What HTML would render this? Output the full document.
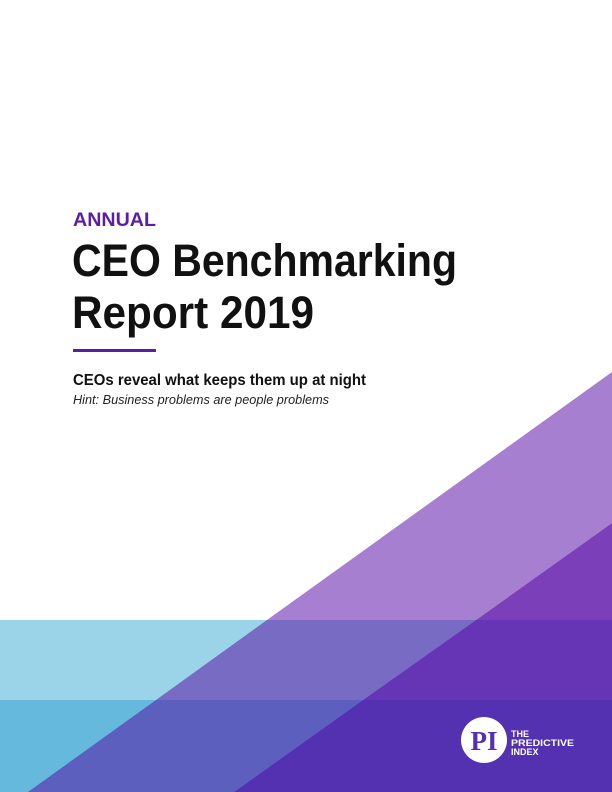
<!DOCTYPE html>
<html><head><meta charset="utf-8"><style>
html,body{margin:0;padding:0;background:#fff}
svg{display:block}
</style></head><body>
<svg width="612" height="792" viewBox="0 0 612 792" xmlns="http://www.w3.org/2000/svg">
<rect width="612" height="792" fill="#fff"/>
<polygon points="612,372 267,620 476,620 612,523" fill="#a67fd0"/>
<polygon points="612,523 476,620 612,620" fill="#7b40b9"/>
<rect x="0" y="620" width="612" height="80" fill="#9bd3e8"/>
<polygon points="267,620 156,700 363,700 476,620" fill="#786bc4"/>
<polygon points="476,620 363,700 612,700 612,620" fill="#6535b5"/>
<rect x="0" y="700" width="612" height="92" fill="#64b9dd"/>
<polygon points="156,700 28,792 234,792 363,700" fill="#5c5fbe"/>
<polygon points="363,700 234,792 612,792 612,700" fill="#5331b0"/>
<g font-family="Liberation Sans, sans-serif">
<text x="73" y="226" font-size="19" font-weight="bold" fill="#5b1da8" textLength="83" lengthAdjust="spacingAndGlyphs">ANNUAL</text>
<text x="72" y="276" font-size="45" font-weight="bold" fill="#111" textLength="385" lengthAdjust="spacingAndGlyphs">CEO Benchmarking</text>
<text x="72" y="328" font-size="45" font-weight="bold" fill="#111" textLength="242" lengthAdjust="spacingAndGlyphs">Report 2019</text>
<rect x="73" y="349" width="83" height="3" fill="#5b1da8"/>
<text x="73" y="385" font-size="16" font-weight="bold" fill="#111" textLength="293" lengthAdjust="spacingAndGlyphs">CEOs reveal what keeps them up at night</text>
<text x="73" y="404" font-size="13" font-style="italic" fill="#222" textLength="256" lengthAdjust="spacingAndGlyphs">Hint: Business problems are people problems</text>
<circle cx="484" cy="740" r="23" fill="#fff"/>
<text x="484" y="750" font-family="Liberation Serif, serif" font-size="27" font-weight="bold" fill="#5331b0" text-anchor="middle">PI</text>
<g fill="#fff" font-size="9" font-weight="bold">
<text x="511" y="737">THE</text>
<text x="511" y="746" textLength="63" lengthAdjust="spacingAndGlyphs">PREDICTIVE</text>
<text x="511" y="755">INDEX</text>
</g>
</g>
</svg>
</body></html>
